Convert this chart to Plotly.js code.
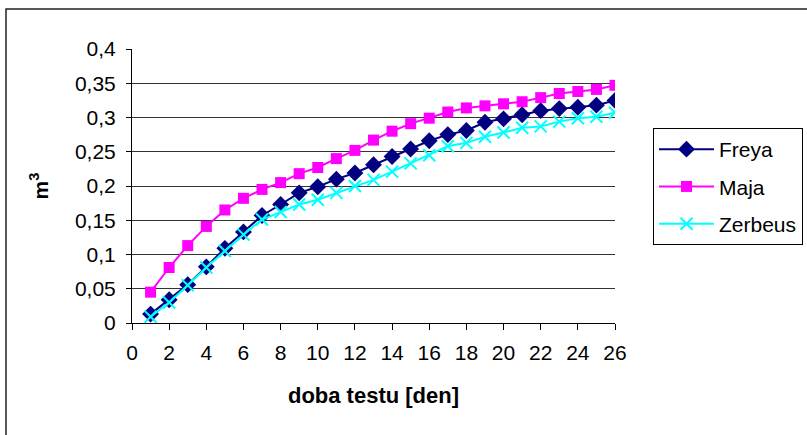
<!DOCTYPE html>
<html>
<head>
<meta charset="utf-8">
<script src="https://cdn.plot.ly/plotly-3.0.1.min.js"></script>
<style>html,body{margin:0;padding:0;background:#fff;}#chart{width:807px;height:435px;}</style>
</head>
<body>
<div id="chart"></div>
<script>
const days = [1,2,3,4,5,6,7,8,9,10,11,12,13,14,15,16,17,18,19,20,21,22,23,24,25,26];
const freya = [0.013,0.034,0.056,0.082,0.109,0.133,0.157,0.173,0.190,0.199,0.210,0.219,0.231,0.243,0.254,0.266,0.275,0.281,0.293,0.298,0.304,0.310,0.313,0.315,0.318,0.325];
const maja = [0.045,0.081,0.113,0.141,0.165,0.182,0.195,0.205,0.218,0.227,0.240,0.252,0.267,0.280,0.291,0.299,0.308,0.314,0.317,0.320,0.323,0.329,0.335,0.338,0.341,0.347];
const zerbeus = [0.009,0.030,0.055,0.081,0.105,0.129,0.151,0.162,0.173,0.180,0.190,0.200,0.209,0.221,0.233,0.245,0.258,0.263,0.272,0.278,0.285,0.287,0.294,0.299,0.301,0.307];
const seriesNames = ['Freya','Maja','Zerbeus'];
const xTitle = 'doba testu [den]';
const yTitle = 'm<sup>3</sup>';

const FONT = '"Liberation Sans", Arial, sans-serif';
const FS = 21;

const traces = [
  {x: days, y: freya, name: seriesNames[0], type: 'scatter', mode: 'lines+markers', legendgroup: 'a',
   line: {color: '#000080', width: 2}, marker: {symbol: 'diamond', size: 13, color: '#000080'}},
  {x: days, y: maja, name: seriesNames[1], type: 'scatter', mode: 'lines+markers', legendgroup: 'b',
   line: {color: '#FF00FF', width: 2}, marker: {symbol: 'square', size: 11, color: '#FF00FF'}},
  {x: days, y: zerbeus, name: seriesNames[2], type: 'scatter', mode: 'lines+markers', legendgroup: 'c',
   line: {color: '#00FFFF', width: 2}, marker: {symbol: 'x-thin-open', size: 12, color: '#00FFFF', line: {color: '#00FFFF', width: 2}}}
];

const L = 132, R = 192, T = 49, B = 112;
const W = 807 - L - R, H = 435 - T - B;
function px(x){ return (x - L) / W; }
function py(y){ return (435 - B - y) / H; }

const layout = {
  width: 807, height: 435,
  margin: {l: L, r: R, t: T, b: B, pad: 0, autoexpand: false},
  paper_bgcolor: '#fff', plot_bgcolor: '#fff',
  separators: ',.',
  font: {family: FONT, size: FS, color: '#000'},
  showlegend: true,
  xaxis: {
    range: [0, 26], dtick: 2, tick0: 0, automargin: false,
    showgrid: false, zeroline: false,
    showline: true, linecolor: '#000', linewidth: 1,
    ticks: 'outside', ticklen: 6, tickcolor: '#000', tickwidth: 1,
    tickfont: {family: FONT, size: FS, color: '#000'},
    ticklabelstandoff: 5,
    title: {text: xTitle, font: {family: FONT, size: 22, color: '#000', weight: 'bold'}, standoff: 24}
  },
  yaxis: {
    range: [0, 0.4], dtick: 0.05, tick0: 0, automargin: false,
    showgrid: true, gridcolor: '#333', gridwidth: 1,
    zeroline: false,
    showline: true, linecolor: '#000', linewidth: 1,
    ticks: 'outside', ticklen: 5, tickcolor: '#000', tickwidth: 1,
    tickfont: {family: FONT, size: FS, color: '#000'},
    ticklabelstandoff: 6,
    title: {text: yTitle, font: {family: FONT, size: 21, color: '#000', weight: 'bold'}, standoff: 20}
  },
  legend: {
    x: px(653), y: py(128), xanchor: 'left', yanchor: 'top',
    bordercolor: '#000', borderwidth: 1, bgcolor: '#fff',
    font: {family: FONT, size: FS, color: '#000'},
    traceorder: 'grouped', tracegroupgap: 7,
    itemwidth: 55
  },
  shapes: [
    {type: 'rect', xref: 'paper', yref: 'paper', x0: px(6), x1: px(830), y0: py(460), y1: py(9),
     line: {color: '#222', width: 1.5}, fillcolor: 'rgba(0,0,0,0)', layer: 'below'}
  ]
};

Plotly.newPlot('chart', traces, layout, {staticPlot: true, displayModeBar: false});
</script>
</body>
</html>
